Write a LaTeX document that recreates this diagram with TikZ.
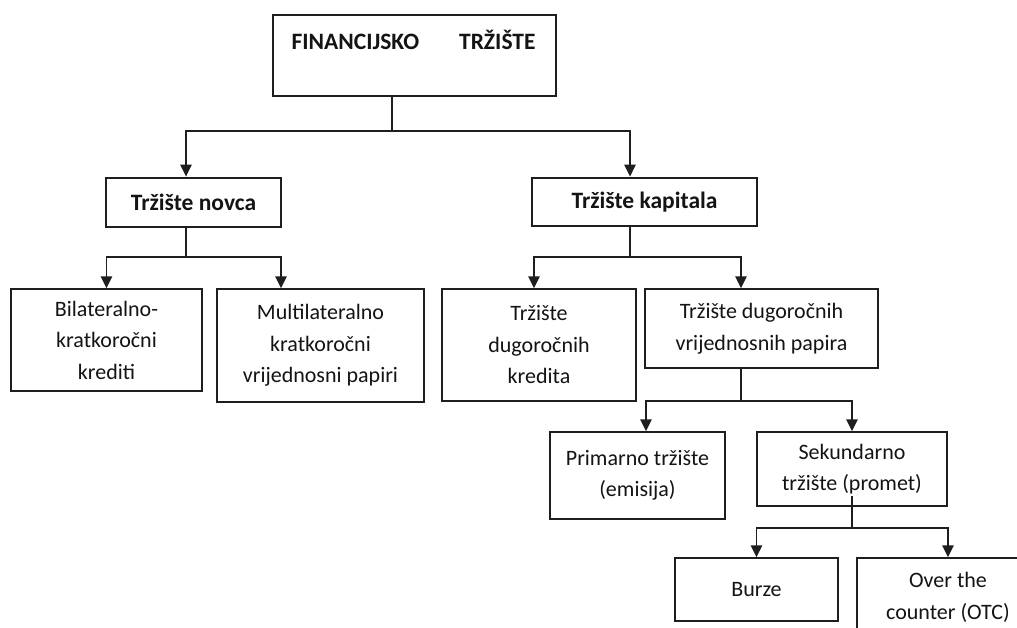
\documentclass[tikz,border=0pt]{standalone}
\usepackage{fontspec}
\setmainfont{Carlito}
\usetikzlibrary{arrows.meta,calc}
\definecolor{linec}{RGB}{30,30,30}
\definecolor{txtc}{RGB}{20,20,20}
\begin{document}
\begin{tikzpicture}[x=1pt,y=-1pt,
  box/.style={draw=linec, line width=1.5pt, inner sep=0pt, align=center,
    font=\fontsize{22}{31.5}\selectfont, text=txtc},
  bbox/.style={draw=linec, line width=2.9pt, inner sep=0pt, align=center,
    font=\fontsize{23.5}{30}\selectfont\bfseries, text=txtc},
  conn/.style={draw=linec, line width=1.5pt},
  arr/.style={conn, -{Triangle[length=12pt,width=11.5pt]}}]
\useasboundingbox (0,0) rectangle (1017,627);
\fill[white] (0,0) rectangle (1017,627);
\clip (0,0) rectangle (1017,627);

% top
\node[bbox, minimum width=283pt, minimum height=81pt] (fin) at (414.5,55.5) {};
\node[font=\fontsize{23.5}{30}\selectfont\bfseries, text=txtc, inner sep=0pt] (fintxt) at (413.5,40) {FINANCIJSKO\hspace{40pt}TRŽIŠTE};

% level 1
\node[bbox, minimum width=175pt, minimum height=49pt] (novca) at (193.5,202.5) {Tržište novca};
\node[bbox, minimum width=225pt, minimum height=48pt] (kap) at (644.5,202) {Tržište kapitala};

% level 2
\node[box, minimum width=191pt, minimum height=102pt] (bil) at (106.5,340) {Bilateralno-\\kratkoročni\\krediti};
\node[box, minimum width=207pt, minimum height=113pt] (mul) at (320.5,345.5) {Multilateralno\\kratkoročni\\vrijednosni papiri};
\node[box, minimum width=194pt, minimum height=112pt] (kred) at (539,345) {Tržište\\dugoročnih\\kredita};
\node[box, minimum width=233pt, minimum height=79pt] (vp) at (761.5,328.5) {Tržište dugoročnih\\vrijednosnih papira};

% level 3
\node[box, minimum width=175pt, minimum height=87pt] (prim) at (637.5,475.5) {Primarno tržište\\(emisija)};
\node[box, minimum width=190pt, minimum height=74pt] (sek) at (852,469) {Sekundarno\\tržište (promet)};

% level 4
\node[box, minimum width=163pt, minimum height=63pt] (burze) at (756.5,589.5) {Burze};
\node[box, minimum width=182pt, minimum height=79pt] (otc) at (948,597.5) {Over the\\counter (OTC)};

% connectors
\coordinate (j0) at (392,131);
\draw[conn] (fin.south -| j0) -- (j0);
\draw[arr] (j0) -| ([xshift=-7.5pt]novca.north);
\draw[arr] (j0) -| ([xshift=-14.5pt]kap.north);

\coordinate (j1) at (186,257);
\draw[conn] (novca.south -| j1) -- (j1);
\draw[arr] (j1) -| (bil.north);
\draw[arr] (j1) -| ([xshift=-39.5pt]mul.north);

\coordinate (j2) at (630,257);
\draw[conn] (kap.south -| j2) -- (j2);
\draw[arr] (j2) -| ([xshift=-5pt]kred.north);
\draw[arr] (j2) -| ([xshift=-20.5pt]vp.north);

\coordinate (j3) at (741,401);
\draw[conn] (vp.south -| j3) -- (j3);
\draw[arr] (j3) -| ([xshift=8.5pt]prim.north);
\draw[arr] (j3) -| (sek.north);

\coordinate (j4) at (852,528);
\draw[conn] ([yshift=11pt]sek.south) -- (j4);
\draw[arr] (j4) -| (burze.north);
\draw[arr] (j4) -| (otc.north);
\end{tikzpicture}
\end{document}
